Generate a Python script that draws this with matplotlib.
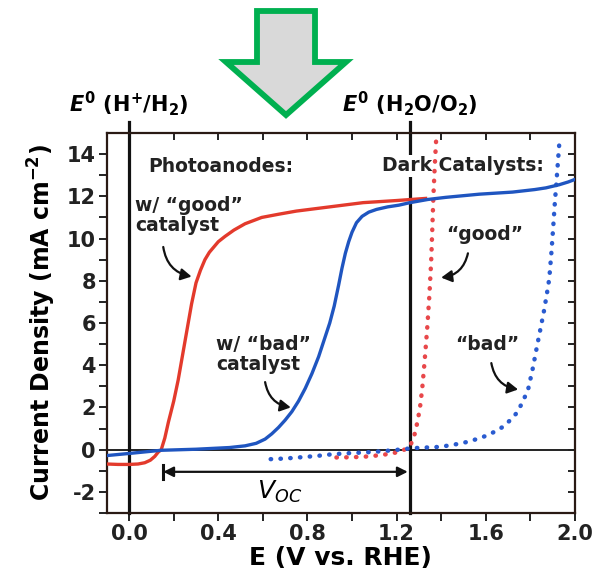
import numpy as np
import matplotlib
matplotlib.use('Agg')
import matplotlib.pyplot as plt
from matplotlib.patches import FancyArrowPatch, Polygon

plt.rcParams['font.family'] = 'DejaVu Sans'
plt.rcParams['font.weight'] = 'bold'
plt.rcParams['axes.unicode_minus'] = False
plt.rcParams['mathtext.fontset'] = 'custom'
plt.rcParams['mathtext.rm'] = 'DejaVu Sans:bold'
plt.rcParams['mathtext.it'] = 'DejaVu Sans:italic:bold'
plt.rcParams['mathtext.bf'] = 'DejaVu Sans:bold'
plt.rcParams['mathtext.sf'] = 'DejaVu Sans:italic:normal'

# Photoanode with "good" catalyst (red solid)
good_E = [-0.10, -0.05, 0.0, 0.04, 0.07, 0.095, 0.115, 0.13, 0.144, 0.16, 0.176, 0.20,
          0.22, 0.24, 0.26, 0.28, 0.30, 0.32, 0.34, 0.36, 0.38, 0.40, 0.43, 0.47,
          0.52, 0.595, 0.67, 0.75, 0.90, 1.05, 1.20, 1.33]
good_J = [-0.68, -0.70, -0.70, -0.68, -0.62, -0.50, -0.32, -0.12, 0.0, 0.55, 1.3, 2.3,
          3.3, 4.5, 5.7, 6.9, 7.9, 8.5, 9.0, 9.35, 9.6, 9.85, 10.1, 10.4,
          10.7, 11.0, 11.15, 11.3, 11.5, 11.7, 11.8, 11.9]

# Photoanode with "bad" catalyst (blue solid)
bad_E = [-0.10, 0.0, 0.144, 0.30, 0.45, 0.52, 0.57, 0.61, 0.64, 0.67, 0.70, 0.73,
         0.76, 0.79, 0.82, 0.85, 0.875, 0.90, 0.92, 0.94, 0.955, 0.97, 0.985, 1.0,
         1.02, 1.045, 1.075, 1.11, 1.16, 1.21, 1.26, 1.34, 1.42, 1.57, 1.72, 1.82,
         1.87, 1.93, 1.97, 2.0]
bad_J = [-0.28, -0.18, -0.03, 0.02, 0.1, 0.18, 0.3, 0.5, 0.75, 1.05, 1.4, 1.8,
         2.3, 2.9, 3.6, 4.4, 5.2, 6.0, 6.8, 7.8, 8.6, 9.3, 9.85, 10.3,
         10.75, 11.05, 11.25, 11.38, 11.5, 11.58, 11.7, 11.85, 11.95, 12.1, 12.2, 12.32,
         12.4, 12.55, 12.68, 12.8]

# Dark catalysts (dotted)
dark_good_E = [0.93, 1.0, 1.06, 1.12, 1.18, 1.22, 1.245, 1.262, 1.275, 1.285, 1.295,
               1.305, 1.315, 1.325, 1.337, 1.347, 1.355, 1.36, 1.365, 1.371, 1.378]
dark_good_J = [-0.37, -0.36, -0.33, -0.27, -0.18, -0.07, 0.05, 0.22, 0.5, 0.9, 1.4,
               2.0, 2.9, 4.1, 5.7, 7.3, 8.9, 10.4, 12.0, 13.4, 14.8]
dark_bad_E = [0.635, 0.70, 0.76, 0.84, 0.91, 0.98, 1.06, 1.14, 1.21, 1.27, 1.33, 1.39,
              1.45, 1.51, 1.56, 1.60, 1.64, 1.68, 1.71, 1.74, 1.765, 1.79, 1.81, 1.83,
              1.845, 1.86, 1.873, 1.885, 1.895, 1.903, 1.91, 1.918, 1.925, 1.932]
dark_bad_J = [-0.45, -0.42, -0.37, -0.30, -0.22, -0.17, -0.13, -0.07, 0.0, 0.07, 0.10, 0.13,
              0.22, 0.35, 0.50, 0.65, 0.85, 1.1, 1.4, 1.75, 2.25, 2.85, 3.8, 4.9,
              5.7, 6.5, 7.3, 8.1, 9.4, 10.6, 11.7, 12.8, 13.8, 14.8]

e_h2 = 0.0
e_o2 = 1.26
voc_left = 0.153

red = '#e33a2c'
blue = '#1f55c0'
red_dot = '#e8474a'
blue_dot = '#2a5bd0'
ink = '#222222'

fig = plt.figure(figsize=(5.97, 5.84), dpi=100)
ax = fig.add_axes([0.179, 0.1216, 0.784, 0.6507])

ax.axhline(0, color=ink, lw=1.4, zorder=1)
for e in (e_h2, e_o2):
    ax.plot([e, e], [-3, 15.5], color='#111111', lw=2.3, clip_on=False, zorder=2)

ax.plot(dark_good_E, dark_good_J, color=red_dot, lw=3.2, linestyle=(0, (0.1, 2.1)),
        dash_capstyle='round', zorder=3)
ax.plot(dark_bad_E, dark_bad_J, color=blue_dot, lw=3.2, linestyle=(0, (0.1, 2.1)),
        dash_capstyle='round', zorder=3)
ax.plot(good_E, good_J, color=red, lw=2.4, zorder=4, solid_joinstyle='round')
ax.plot(bad_E, bad_J, color=blue, lw=2.4, zorder=5, solid_joinstyle='round')

ax.set_xlim(-0.1, 2.0)
ax.set_ylim(-3, 15)
ax.set_xticks(np.arange(0, 2.01, 0.4))
ax.set_xticks(np.arange(0.2, 2.01, 0.4), minor=True)
ax.set_xticklabels(['0.0', '0.4', '0.8', '1.2', '1.6', '2.0'])
ax.set_yticks(np.arange(-2, 15, 2))
ax.set_yticks(np.arange(-3, 15, 2), minor=True)
ax.tick_params(axis='both', which='both', direction='out', width=1.4, colors=ink,
               labelsize=15, pad=2, length=6)
for s in ax.spines.values():
    s.set_linewidth(1.6)
    s.set_color('#2a1a14')

# inward ticks on top and right
top = ax.secondary_xaxis('top')
top.set_xticks(np.arange(0, 2.01, 0.2))
top.tick_params(direction='in', length=5, width=1.4, labeltop=False, colors=ink)
top.spines['top'].set_visible(False)
right = ax.secondary_yaxis('right')
right.set_yticks(np.arange(-3, 15, 1))
right.tick_params(direction='in', length=5, width=1.4, labelright=False, colors=ink)
right.spines['right'].set_visible(False)

ax.set_xlabel('E (V vs. RHE)', fontsize=18, fontweight='bold')
ax.xaxis.set_label_coords(0.5, -0.088)
ax.set_ylabel('Current Density (mA cm$^{-2}$)', fontsize=17, fontweight='bold', labelpad=6)

# V_OC arrow
ax.annotate('', xy=(voc_left, -1.05), xytext=(e_o2 - 0.01, -1.05),
            arrowprops=dict(arrowstyle='<|-|>,head_length=0.6,head_width=0.3',
                            color='#111111', lw=1.6, shrinkA=0, shrinkB=0))
ax.plot([voc_left, voc_left], [-0.75, -1.4], color='#111111', lw=2.2)
ax.text(0.675, -2.0, r'$\mathsf{V_{OC}}$', fontsize=18, ha='center', va='center')

# annotations
ax.text(0.085, 13.4, 'Photoanodes:', fontsize=13.5, va='center', color=ink)
# white box breaks the E0(O2) line behind the text, dots stay on top
ax.text(1.135, 13.45, 'Dark Catalysts:', fontsize=13.5, va='center', color=ink, zorder=2.5,
        bbox=dict(facecolor='white', edgecolor='none', pad=1))
ax.text(0.027, 11.1, 'w/ \u201cgood\u201d\ncatalyst', fontsize=13.5, va='center',
        linespacing=1.05, color=ink)
ax.text(0.39, 4.5, 'w/ \u201cbad\u201d\ncatalyst', fontsize=13.5, va='center',
        linespacing=1.05, color=ink)
ax.text(1.595, 10.2, '\u201cgood\u201d', fontsize=13.5, ha='center', va='center', color=ink)
ax.text(1.605, 5.0, '\u201cbad\u201d', fontsize=13.5, ha='center', va='center', color=ink)

arrows = [((0.153, 9.6), (0.28, 8.2), 0.35),
          ((0.61, 3.2), (0.725, 2.0), 0.35),
          ((1.52, 9.3), (1.40, 8.15), -0.35),
          ((1.625, 4.1), (1.745, 2.85), 0.35)]
for a, b, r in arrows:
    ax.add_patch(FancyArrowPatch(a, b, connectionstyle=f'arc3,rad={r}',
                                 arrowstyle='-|>,head_length=0.45,head_width=0.25',
                                 mutation_scale=14, lw=1.6, color='#111111',
                                 shrinkA=0, shrinkB=0, zorder=6))

# redox potential labels above the plot
ax.text(e_h2, 16.4, r'$\mathit{E^0}$ (H$^{+}$/H$_2$)', fontsize=15, ha='center', va='center')
ax.text(e_o2, 16.4, r'$\mathit{E^0}$ (H$_2$O/O$_2$)', fontsize=15, ha='center', va='center')

# big green down arrow
fx = lambda p: p / 597
fy = lambda p: 1 - p / 584
arrow_px = [(257, 11), (315, 11), (315, 62), (346, 62), (286, 115), (226, 62), (257, 62)]
fig.patches.append(Polygon([(fx(x), fy(y)) for x, y in arrow_px], closed=True,
                           transform=fig.transFigure, facecolor='#d9d9d9',
                           edgecolor='#00b050', lw=4.2, joinstyle='miter'))

fig.savefig('out.png', dpi=100)
